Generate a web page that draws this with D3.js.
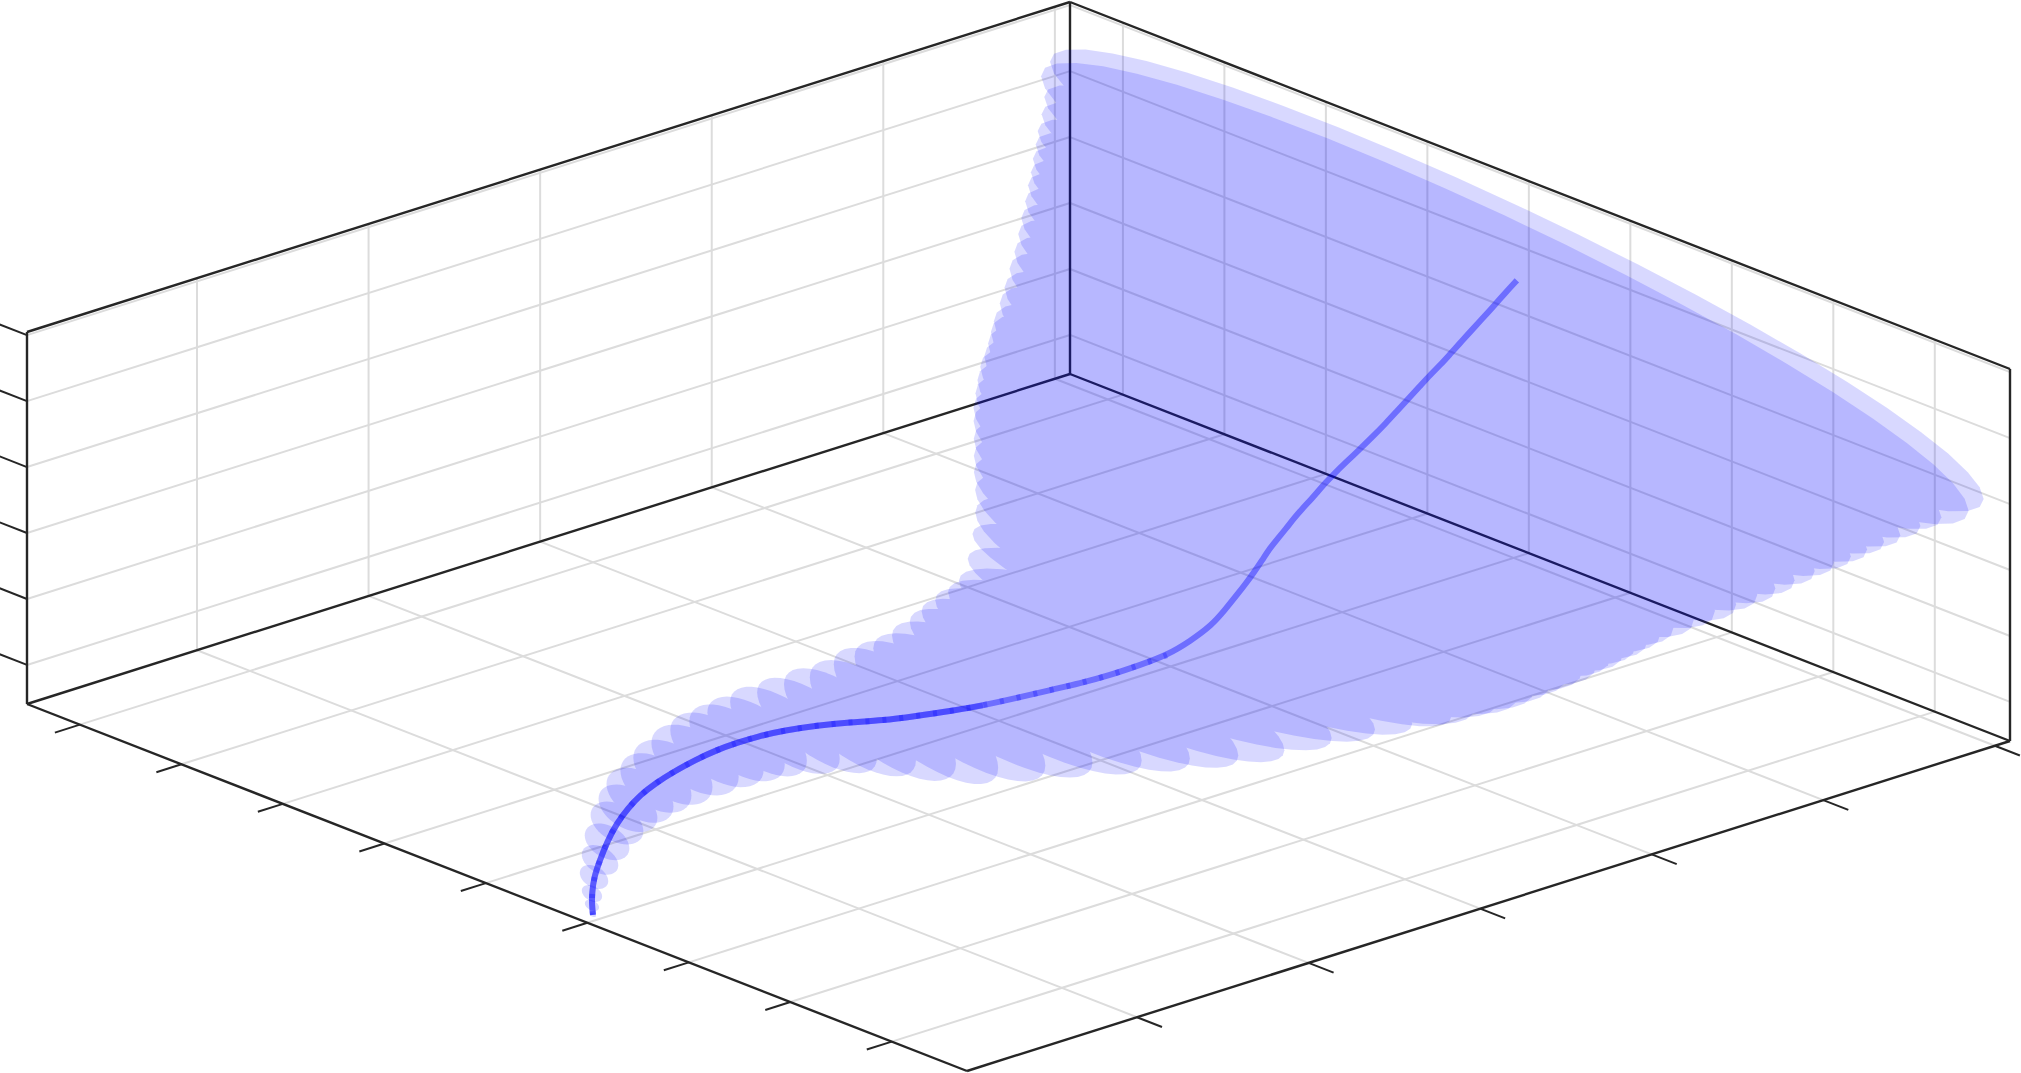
<!DOCTYPE html>
<html>
<head>
<meta charset="utf-8">
<script src="https://cdnjs.cloudflare.com/ajax/libs/d3/7.8.5/d3.min.js"></script>
<style>
  html, body { margin: 0; padding: 0; background: #fff; overflow: hidden; }
  svg { display: block; }
</style>
</head>
<body>
<svg id="chart" width="2021" height="1073"></svg>
<script>
// Tick positions of the three unlabelled axes
const xTicks = [0, 1, 2, 3, 4, 5, 6, 7, 8];
const yTicks = [0, 1, 2, 3, 4, 5];
const zTicks = [0, 1, 2, 3, 4, 5];

// Mean trajectory, one entry per ellipse
const meanX = [5, 5, 5, 5, 5, 5, 4.9, 4.9, 4.9, 4.9, 4.9, 4.9, 4.8, 4.8, 4.8, 4.8, 4.8, 4.8, 4.7, 4.7,
  4.7, 4.7, 4.7, 4.7, 4.6, 4.6, 4.6, 4.6, 4.6, 4.6, 4.5, 4.5, 4.5, 4.5, 4.5, 4.5, 4.4, 4.4, 4.4, 4.4,
  4.4, 4.4, 4.3, 4.3, 4.3, 4.3, 4.3, 4.3, 4.2, 4.2, 4.2, 4.2, 4.2, 4.2, 4.1, 4.1, 4.1, 4.1, 4.1, 4.1];
const meanY = [-0.958, -0.964, -0.964, -0.952, -0.917, -0.876, -0.759, -0.695, -0.625, -0.532, -0.433, -0.304,
  -0.117, 0, 0.117, 0.279, 0.466, 0.658, 0.909, 1.102, 1.3, 1.492, 1.69, 1.882, 2.117, 2.291, 2.466, 2.624,
  2.758, 2.886, 3.021, 3.091, 3.143, 3.19, 3.237, 3.283, 3.389, 3.436, 3.483, 3.529, 3.576, 3.622, 3.727,
  3.774, 3.85, 3.925, 4.001, 4.077, 4.2, 4.265, 4.335, 4.399, 4.457, 4.51, 4.627, 4.68, 4.75, 4.819, 4.889, 4.959];
const meanZ = [-0.5, -0.35, -0.17, 0.07, 0.3, 0.54, 0.67, 0.84, 0.98, 1.09, 1.17, 1.25, 1.19, 1.2, 1.2, 1.16,
  1.08, 0.97, 0.73, 0.64, 0.55, 0.48, 0.43, 0.39, 0.24, 0.22, 0.23, 0.25, 0.35, 0.49, 0.55, 0.72, 0.85, 0.98,
  1.12, 1.27, 1.27, 1.38, 1.5, 1.6, 1.69, 1.79, 1.78, 1.87, 2, 2.12, 2.25, 2.39, 2.41, 2.54, 2.68, 2.81, 2.91,
  3.02, 3.03, 3.14, 3.28, 3.42, 3.57, 3.71];

// Half widths of each ellipse, in axis units
const spreadX = [0.03, 0.07, 0.1, 0.14, 0.18, 0.22, 0.26, 0.29, 0.33, 0.35, 0.39, 0.43, 0.46, 0.47, 0.49, 0.54,
  0.59, 0.65, 0.72, 0.81, 0.94, 1.08, 1.23, 1.38, 1.56, 1.72, 1.89, 2.05, 2.19, 2.36, 2.46, 2.58, 2.68, 2.76,
  2.84, 2.92, 3, 3.06, 3.12, 3.17, 3.21, 3.25, 3.3, 3.35, 3.42, 3.5, 3.58, 3.66, 3.73, 3.81, 3.89, 3.97, 4.04,
  4.11, 4.18, 4.25, 4.33, 4.42, 4.57, 4.6];
const spreadZ = [0.03, 0.08, 0.12, 0.17, 0.21, 0.26, 0.3, 0.33, 0.38, 0.41, 0.44, 0.47, 0.48, 0.48, 0.48, 0.5,
  0.52, 0.58, 0.64, 0.67, 0.67, 0.67, 0.67, 0.67, 0.67, 0.67, 0.67, 0.67, 0.67, 0.67, 0.91, 0.97, 1.03, 1.09,
  1.12, 1.15, 1.18, 1.18, 1.18, 1.18, 1.18, 1.18, 1.18, 1.18, 1.18, 1.16, 1.15, 1.14, 1.12, 1.11, 1.1, 1.09, 1.08,
  1.07, 1.06, 1.06, 1.08, 1.09, 1.18, 1.14];
// How far the long axis of each ellipse dips in z per unit of x
const spreadTilt = [0.15, 0.15, 0.15, 0.15, 0.15, 0.15, 0.12, 0.1, 0.08, 0.06, 0.03, 0, -0.05, -0.1,
  -0.15, -0.2, -0.25, -0.29, -0.31, -0.37, -0.28, -0.2, -0.17, -0.15, -0.1, -0.06, 0.015, 0.05, 0.03, 0.015,
  0, -0.015, -0.03, -0.04, -0.05, -0.06, -0.06, -0.07, -0.07, -0.08, -0.08, -0.09, -0.09, -0.09, -0.1, -0.1,
  -0.11, -0.11, -0.12, -0.12, -0.12, -0.12, -0.12, -0.12, -0.12, -0.12, -0.12, -0.12, -0.12, -0.12];

// Box corners on screen (orthographic view)
const origin = [27, 704];
const uEdge = [940, 367];
const vEdge = [1043, -330];
const boxHeight = 372;

// Axis value -> fraction of the box
const xScale = d3.scaleLinear().domain([0, 8]).range([0.0563, 0.92]);
const yScale = d3.scaleLinear().domain([0, 5]).range([0.163, 0.9855]);
const zScale = d3.scaleLinear().domain([0, 5]).range([0.105, 0.9915]);

function toScreen(u, v, w) {
  return [
    origin[0] + u * uEdge[0] + v * vEdge[0],
    origin[1] + u * uEdge[1] + v * vEdge[1] - w * boxHeight,
  ];
}

function project(x, y, z) {
  return toScreen(xScale(x), yScale(y), zScale(z));
}

const svg = d3.select('#chart');

function drawSegments(cls, segments, color, width) {
  svg.append('g')
    .attr('class', cls)
    .selectAll('line')
    .data(segments)
    .enter()
    .append('line')
    .attr('x1', d => d[0][0])
    .attr('y1', d => d[0][1])
    .attr('x2', d => d[1][0])
    .attr('y2', d => d[1][1])
    .attr('stroke', color)
    .attr('stroke-width', width);
}

// Grid
const gridSegments = [];
xTicks.forEach(t => {
  const u = xScale(t);
  gridSegments.push([toScreen(u, 0, 0), toScreen(u, 1, 0)]);
  gridSegments.push([toScreen(u, 1, 0), toScreen(u, 1, 1)]);
});
yTicks.forEach(t => {
  const v = yScale(t);
  gridSegments.push([toScreen(0, v, 0), toScreen(1, v, 0)]);
  gridSegments.push([toScreen(0, v, 0), toScreen(0, v, 1)]);
});
zTicks.forEach(t => {
  const w = zScale(t);
  gridSegments.push([toScreen(0, 0, w), toScreen(0, 1, w)]);
  gridSegments.push([toScreen(0, 1, w), toScreen(1, 1, w)]);
});
drawSegments('grid', gridSegments, '#dcdcdc', 2);

// Box outline
const boxSegments = [
  [toScreen(0, 0, 0), toScreen(0, 1, 0)],
  [toScreen(0, 1, 0), toScreen(1, 1, 0)],
  [toScreen(0, 0, 0), toScreen(1, 0, 0)],
  [toScreen(1, 0, 0), toScreen(1, 1, 0)],
  [toScreen(0, 0, 1), toScreen(0, 1, 1)],
  [toScreen(0, 1, 1), toScreen(1, 1, 1)],
  [toScreen(0, 0, 0), toScreen(0, 0, 1)],
  [toScreen(0, 1, 0), toScreen(0, 1, 1)],
  [toScreen(1, 1, 0), toScreen(1, 1, 1)],
];
drawSegments('box', boxSegments, '#262626', 2.4);

// Tick marks
const tickSegments = [];
xTicks.forEach(t => {
  const u = xScale(t);
  tickSegments.push([toScreen(u, 0, 0), toScreen(u, -0.024, 0)]);
});
yTicks.forEach(t => {
  const v = yScale(t);
  tickSegments.push([toScreen(1, v, 0), toScreen(1.0266, v, 0)]);
});
zTicks.forEach(t => {
  const w = zScale(t);
  tickSegments.push([toScreen(0, 0, w), toScreen(-0.03, 0, w)]);
});
drawSegments('ticks', tickSegments, '#262626', 2);

// Uncertainty ellipses, in two overlapping layers
const angles = d3.range(0, 2 * Math.PI, Math.PI / 24);
const ellipseLine = d3.line().curve(d3.curveLinearClosed);

function ellipsePath(i) {
  return ellipseLine(angles.map(a => {
    const along = spreadX[i] * Math.cos(a);
    return project(
      meanX[i] + along,
      meanY[i],
      meanZ[i] + along * spreadTilt[i] + spreadZ[i] * Math.sin(a)
    );
  }));
}

const stations = d3.range(meanX.length);

[0, 1].forEach(layer => {
  svg.append('g')
    .attr('class', 'ellipses')
    .attr('opacity', 0.15)
    .selectAll('path')
    .data(stations.filter(i => i % 2 === layer))
    .enter()
    .append('path')
    .attr('d', ellipsePath)
    .attr('fill', '#0000ff');
});

// Mean line
const meanPoints = stations.map(i => project(meanX[i], meanY[i], meanZ[i]));
const meanLine = d3.line().curve(d3.curveBasis);

function addMeanPath(points, opacity, dash) {
  svg.append('path')
    .attr('d', meanLine(points))
    .attr('fill', 'none')
    .attr('stroke', '#0000ff')
    .attr('stroke-opacity', opacity)
    .attr('stroke-width', 6)
    .attr('stroke-dasharray', dash);
}

addMeanPath(meanPoints, 0.4, null);
// The lower part of the line is denser, with darker stripes that fade out
addMeanPath(meanPoints.slice(0, 22), 0.3, null);
addMeanPath(meanPoints.slice(0, 28), 0.25, '4 13');
</script>
</body>
</html>
